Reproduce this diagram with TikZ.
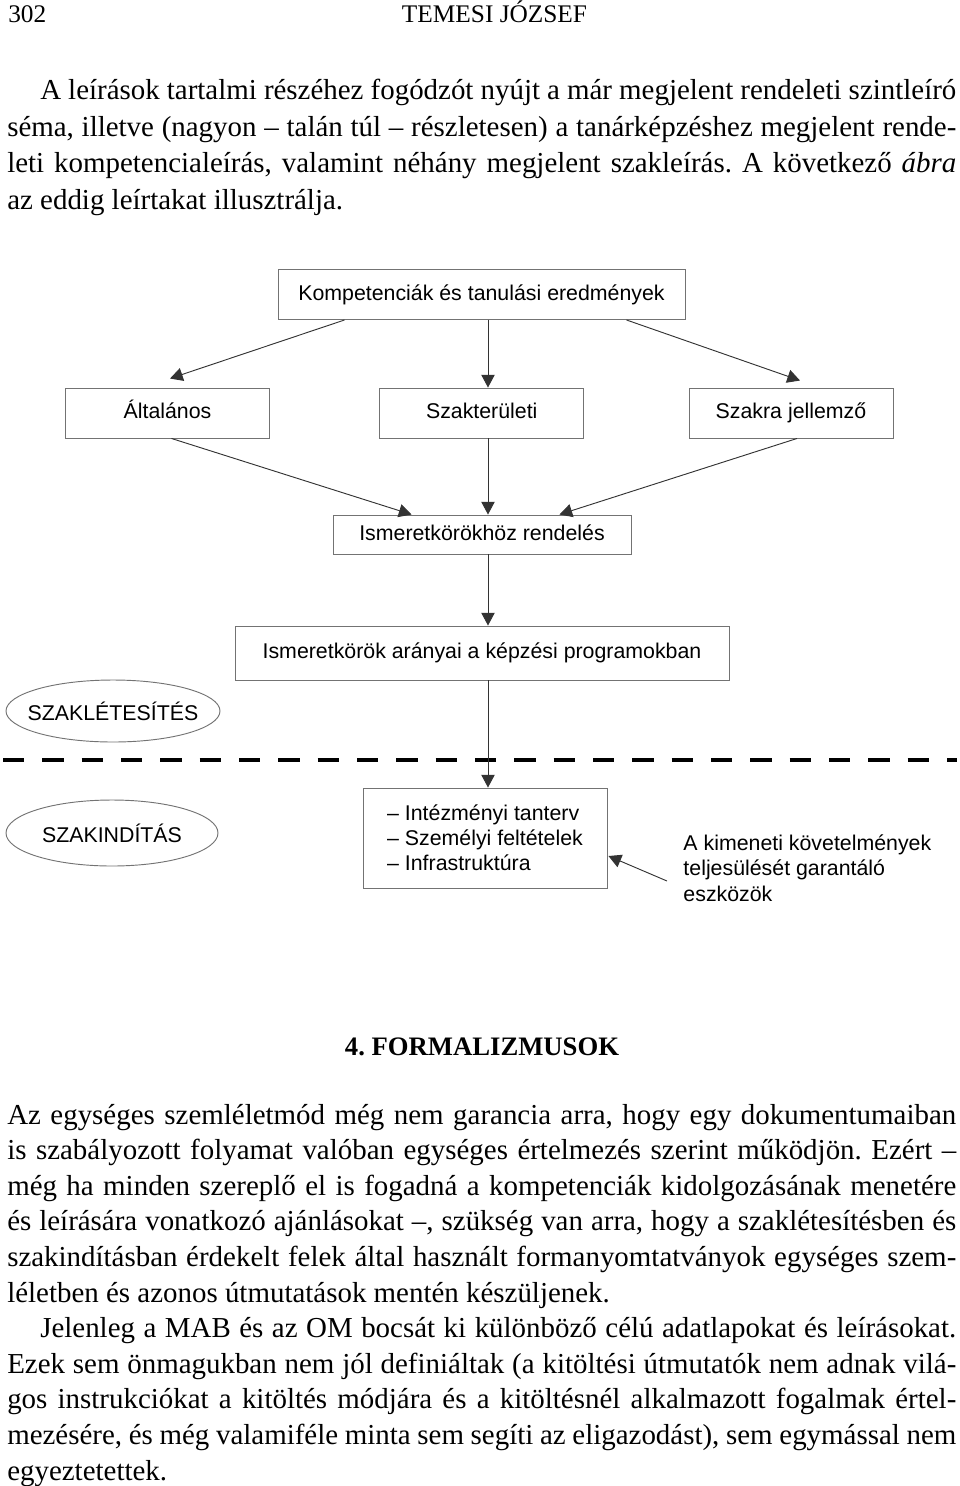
\documentclass[tikz,border=0pt]{standalone}
\usepackage{fontspec}
\setmainfont{Liberation Serif}
\newfontfamily\diafont{Liberation Sans}
\usetikzlibrary{arrows.meta, calc, shapes.geometric}
\frenchspacing

\begin{document}
\begin{tikzpicture}[
  x=0.75pt, y=-0.75pt,
  box/.style={
    draw=black!55,
    line width=0.7pt,
    inner sep=0pt,
    align=center,
    font=\diafont\fontsize{16}{18.75}\selectfont
  },
  tbox/.style={box, text height=12pt, text depth=3.5pt},
  oval/.style={box, ellipse},
  arr/.style={draw=black!80, line width=0.7pt, -{Triangle[length=9.5pt, width=10pt]}},
  body/.style={anchor=base west, inner sep=0pt, font=\fontsize{21.7}{26}\selectfont},
  sep/.style={line width=3pt, dash pattern=on 16pt off 13.5pt}
]
\useasboundingbox (0,0) rectangle (960,1486);

% running head
\node[body] (pagenum) at (8,22) {\fontsize{19}{21}\selectfont 302};
\node[body, anchor=base] (runhead) at (494.5,22) {\fontsize{19}{21}\selectfont TEMESI JÓZSEF};

% text above the figure
\foreach \y/\x/\w/\t [count=\i] in {
  99/40/687/{A leírások tartalmi részéhez fogódzót nyújt a már megjelent rendeleti szintleíró},
  136/7/711.75/{séma, illetve (nagyon – talán túl – részletesen) a tanárképzéshez megjelent rende-},
  172.5/7/711.75/{leti kompetencialeírás, valamint néhány megjelent szakleírás. A következő \emph{ábra}}}
  \node[body] (a\i) at (\x,\y) {\makebox[\w pt][s]{\t}};
\node[body] (a4) at (7,209) {az eddig leírtakat illusztrálja.};

% first row
\node[tbox, minimum width=305.25pt, minimum height=37.5pt] (komp) at (481.5,294.5) {Kompetenciák és tanulási eredmények};

% second row
\node[tbox, minimum width=153pt, minimum height=37.5pt] (alt) at (167.5,413) {Általános};
\node[tbox, minimum width=153pt, minimum height=37.5pt] (szak) at (481.75,413) {Szakterületi};
\node[tbox, minimum width=153pt, minimum height=37.5pt] (jell) at (791,413) {Szakra jellemző};

% third and fourth row
\node[tbox, minimum width=223.5pt, minimum height=29.25pt] (ism) at (482,534.5) {Ismeretkörökhöz rendelés};
\node[tbox, minimum width=370.5pt, minimum height=40.5pt] (arany) at (482,653) {Ismeretkörök arányai a képzési programokban};

% the two phases
\node[oval, minimum width=160.5pt, minimum height=46.5pt] (letes) at (113,711) {\makebox[0pt]{SZAKLÉTESÍTÉS}};
\node[oval, minimum width=159pt, minimum height=49.5pt] (indit) at (112,833) {\makebox[0pt]{SZAKINDÍTÁS}};

% bottom row
\node[box, align=left, minimum width=183pt, minimum height=75pt] (lista) at (485,838) {– Intézményi tanterv\\ – Személyi feltételek\\ – Infrastruktúra};
\node[box, draw=none, align=left, anchor=west] (note) at (683,868) {A kimeneti követelmények\\[0.5pt] teljesülését garantáló\\[0.5pt] eszközök};

\coordinate (mid) at (488,0);

% arrows
\draw[arr] ($(komp.south west)+(67,0)$) -- ($(alt.north)+(2.5,-9)$);
\draw[arr] (komp.south -| mid) -- (szak.north -| mid);
\draw[arr] ($(komp.south east)+(-59,0)$) -- ($(jell.north)+(9,-7)$);
\draw[arr] ($(alt.south)+(4,0)$) -- ($(ism.north west)+(79,0)$);
\draw[arr] (szak.south -| mid) -- (ism.north -| mid);
\draw[arr] ($(jell.south)+(6,0)$) -- ($(ism.north east)+(-72,0)$);
\draw[arr] (ism.south -| mid) -- (arany.north -| mid);
\draw[sep] (3,760) -- (957,760);
\draw[arr] (arany.south -| mid) -- (lista.north -| mid);
\draw[arr] ($(note.west)+(-16,13)$) -- ($(lista.east)+(1,18)$);

% section title and text below the figure
\node[body, anchor=base, font=\bfseries\fontsize{20}{24}\selectfont] (title) at (482,1055) {4. FORMALIZMUSOK};
\foreach \y/\x/\w/\t [count=\i] in {
  1124/7/711.75/{Az egységes szemléletmód még nem garancia arra, hogy egy dokumentumaiban},
  1159.6/7/711.75/{is szabályozott folyamat valóban egységes értelmezés szerint működjön. Ezért –},
  1195.2/7/711.75/{még ha minden szereplő el is fogadná a kompetenciák kidolgozásának menetére},
  1230.8/7/711.75/{és leírására vonatkozó ajánlásokat –, szükség van arra, hogy a szaklétesítésben és},
  1266.4/7/711.75/{szakindításban érdekelt felek által használt formanyomtatványok egységes szem-},
  1337.6/40/687/{Jelenleg a MAB és az OM bocsát ki különböző célú adatlapokat és leírásokat.},
  1373.2/7/711.75/{Ezek sem önmagukban nem jól definiáltak (a kitöltési útmutatók nem adnak vilá-},
  1408.8/7/711.75/{gos instrukciókat a kitöltés módjára és a kitöltésnél alkalmazott fogalmak értel-},
  1444.4/7/711.75/{mezésére, és még valamiféle minta sem segíti az eligazodást), sem egymással nem}}
  \node[body] (b\i) at (\x,\y) {\makebox[\w pt][s]{\t}};
\node[body] (b10) at (7,1302) {léletben és azonos útmutatások mentén készüljenek.};
\node[body] (b11) at (7,1480) {egyeztetettek.};
\end{tikzpicture}
\end{document}
